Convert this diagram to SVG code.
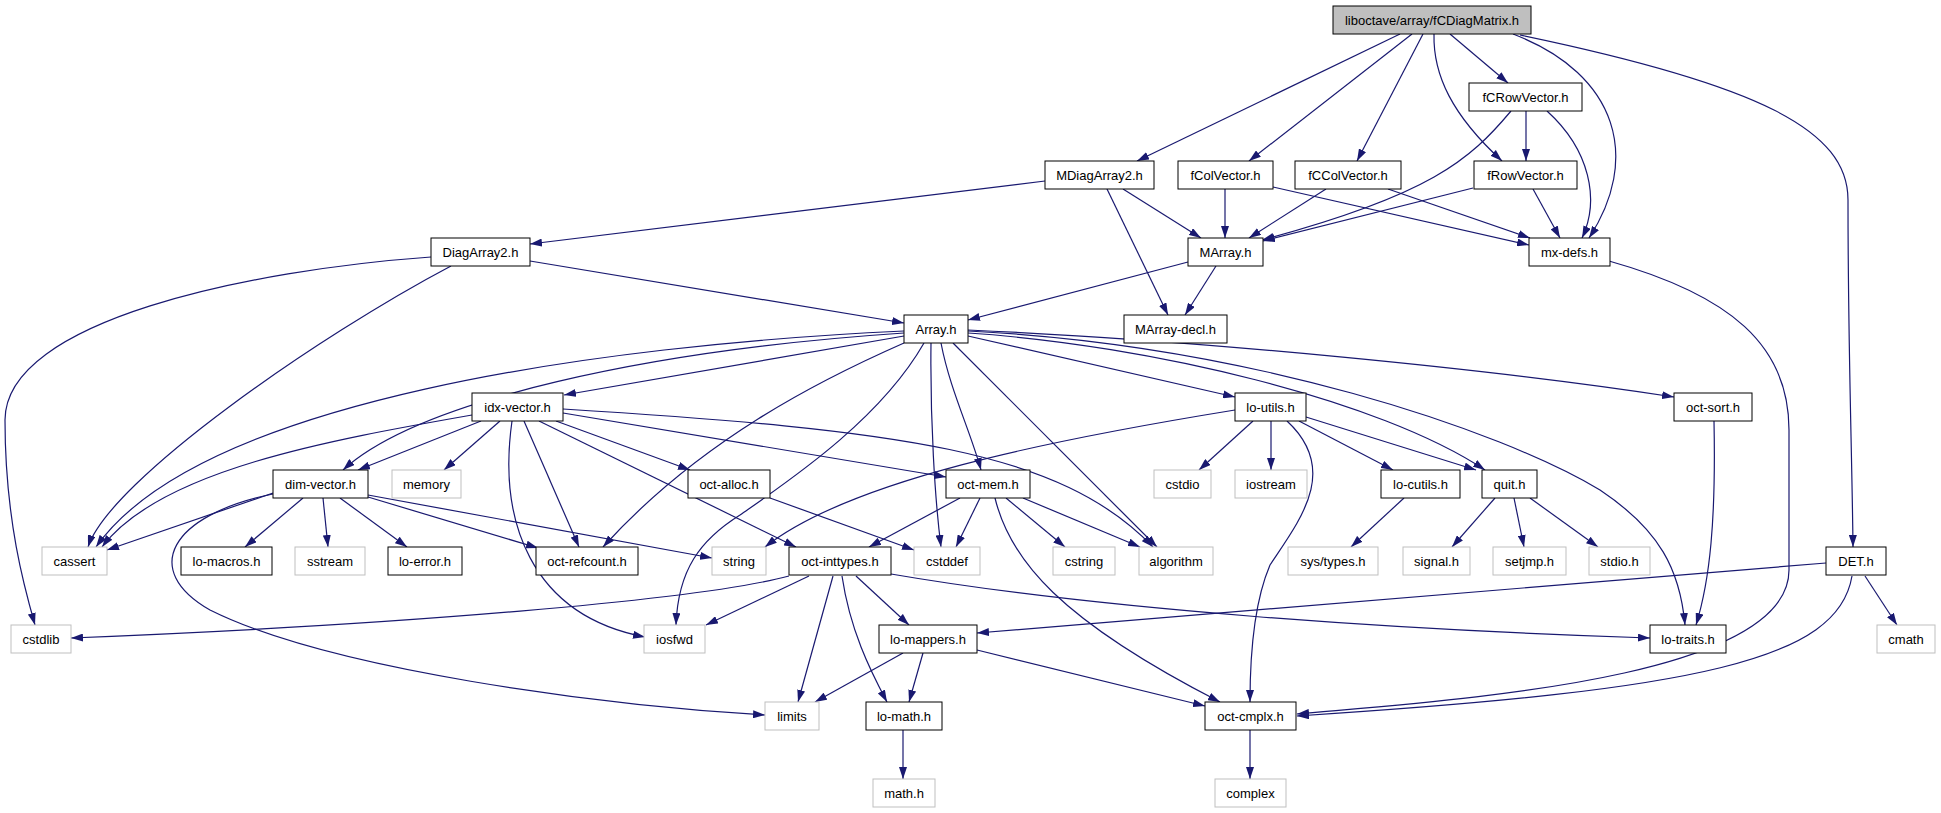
<svg xmlns="http://www.w3.org/2000/svg" width="1941" height="813" viewBox="0 0 1941 813">
<style>
.n rect{fill:#fff;stroke:#000;stroke-width:1}
.g rect{fill:#fff;stroke:#bfbfbf;stroke-width:1}
.r rect{fill:#bfbfbf;stroke:#000;stroke-width:1}
text{font-family:"Liberation Sans",Arial,sans-serif;font-size:13px;text-anchor:middle;fill:#000}
#edges path{fill:none;stroke:#191970;stroke-width:1.2;marker-end:url(#a)}
</style>
<defs>
<marker id="a" markerUnits="userSpaceOnUse" markerWidth="12" markerHeight="8" refX="12" refY="4" orient="auto"><path d="M0,0L12,4L0,8z" fill="#191970"/></marker>
</defs>
<rect width="1941" height="813" fill="#fff"/>
<g id="edges">
<path d="M1400,34 L1137,161"/>
<path d="M1412,34 L1249,161"/>
<path d="M1423,34 L1357,161"/>
<path d="M1434,34 C1433,75 1452,115 1502,161"/>
<path d="M1450,34 L1508,83"/>
<path d="M1513,34 C1620,75 1640,160 1589,238"/>
<path d="M1520,35 C1760,85 1848,130 1848,200 C1848,350 1852,450 1853,547"/>
<path d="M1511,111 C1470,160 1430,195 1262,240"/>
<path d="M1526,111 L1526,161"/>
<path d="M1547,111 C1590,150 1600,200 1582,238"/>
<path d="M1045,181 L530,244"/>
<path d="M1123,189 L1201,238"/>
<path d="M1107,189 L1168,315"/>
<path d="M1225,189 L1225,238"/>
<path d="M1273,187 L1529,245"/>
<path d="M1326,189 L1249,238"/>
<path d="M1388,189 L1530,238"/>
<path d="M1473,188 L1263,241"/>
<path d="M1533,189 L1560,238"/>
<path d="M1188,262 L968,320"/>
<path d="M1216,266 L1185,315"/>
<path d="M530,261 L904,323"/>
<path d="M451,266 C320,335 110,480 88,547"/>
<path d="M431,257 C250,270 5,320 5,420 C5,520 25,590 35,625"/>
<path d="M1609,261 C1730,295 1789,345 1789,430 L1789,570 C1789,680 1450,700 1297,714"/>
<path d="M1852,576 C1838,660 1700,690 1297,716"/>
<path d="M1826,563 L977,633"/>
<path d="M1865,576 L1897,625"/>
<path d="M904,336 L564,395"/>
<path d="M904,333 C650,350 420,400 343,470"/>
<path d="M904,331 C600,345 200,400 96,547"/>
<path d="M904,343 C820,380 700,440 603,547"/>
<path d="M924,343 C880,420 790,480 740,515 C700,540 678,570 676,625"/>
<path d="M931,343 C930,420 935,500 941,547"/>
<path d="M941,343 C950,390 970,430 981,470"/>
<path d="M953,343 L1157,547"/>
<path d="M968,336 L1235,397"/>
<path d="M968,333 C1150,345 1380,400 1485,470"/>
<path d="M968,330 C1200,340 1500,370 1674,397"/>
<path d="M968,331 C1250,345 1500,430 1600,490 C1660,530 1680,570 1685,625"/>
<path d="M481,421 L358,470"/>
<path d="M472,415 C330,440 160,470 102,547"/>
<path d="M500,421 L444,470"/>
<path d="M512,421 C498,520 530,615 645,637"/>
<path d="M524,421 L579,547"/>
<path d="M539,421 L796,547"/>
<path d="M556,421 L690,470"/>
<path d="M563,413 L946,477"/>
<path d="M563,409 C900,430 1060,450 1153,547"/>
<path d="M273,493 L107,550"/>
<path d="M303,498 L245,547"/>
<path d="M323,498 L328,547"/>
<path d="M340,498 L407,547"/>
<path d="M368,497 L538,548"/>
<path d="M368,495 L712,558"/>
<path d="M273,494 C170,515 140,570 210,610 C330,670 600,705 765,715"/>
<path d="M770,498 L914,550"/>
<path d="M960,498 L869,547"/>
<path d="M980,498 L956,547"/>
<path d="M1006,498 L1065,547"/>
<path d="M1023,498 L1140,547"/>
<path d="M995,498 C1010,560 1060,620 1220,702"/>
<path d="M1235,410 C1050,440 850,480 765,547"/>
<path d="M1253,421 L1199,470"/>
<path d="M1271,421 L1271,470"/>
<path d="M1287,421 C1340,470 1300,520 1270,565 C1255,600 1250,650 1250,702"/>
<path d="M1299,421 L1393,470"/>
<path d="M1306,417 L1476,470"/>
<path d="M1714,421 C1716,520 1710,580 1696,625"/>
<path d="M1404,498 L1351,547"/>
<path d="M1495,498 L1452,547"/>
<path d="M1514,498 L1524,547"/>
<path d="M1530,498 L1598,547"/>
<path d="M789,576 C700,600 400,625 71,638"/>
<path d="M809,576 L706,625"/>
<path d="M833,576 L798,702"/>
<path d="M842,576 C850,630 870,670 887,702"/>
<path d="M856,576 L909,625"/>
<path d="M891,574 C1100,610 1400,630 1650,638"/>
<path d="M903,653 L815,702"/>
<path d="M923,653 L909,702"/>
<path d="M977,650 L1205,706"/>
<path d="M903,730 L903,779"/>
<path d="M1250,730 L1250,779"/>
</g>
<g id="root" class="r"><rect x="1333" y="6" width="198" height="28"/><text x="1432" y="24.5">liboctave/array/fCDiagMatrix.h</text></g>
<g id="fCRowVector" class="n"><rect x="1469" y="83" width="113" height="28"/><text x="1525.5" y="101.5">fCRowVector.h</text></g>
<g id="MDiagArray2" class="n"><rect x="1045" y="161" width="109" height="28"/><text x="1099.5" y="179.5">MDiagArray2.h</text></g>
<g id="fColVector" class="n"><rect x="1178" y="161" width="95" height="28"/><text x="1225.5" y="179.5">fColVector.h</text></g>
<g id="fCColVector" class="n"><rect x="1295" y="161" width="106" height="28"/><text x="1348" y="179.5">fCColVector.h</text></g>
<g id="fRowVector" class="n"><rect x="1474" y="161" width="103" height="28"/><text x="1525.5" y="179.5">fRowVector.h</text></g>
<g id="DiagArray2" class="n"><rect x="431" y="238" width="99" height="28"/><text x="480.5" y="256.5">DiagArray2.h</text></g>
<g id="MArray" class="n"><rect x="1188" y="238" width="75" height="28"/><text x="1225.5" y="256.5">MArray.h</text></g>
<g id="mx-defs" class="n"><rect x="1529" y="238" width="81" height="28"/><text x="1569.5" y="256.5">mx-defs.h</text></g>
<g id="Array" class="n"><rect x="904" y="315" width="64" height="28"/><text x="936" y="333.5">Array.h</text></g>
<g id="MArray-decl" class="n"><rect x="1124" y="315" width="103" height="28"/><text x="1175.5" y="333.5">MArray-decl.h</text></g>
<g id="idx-vector" class="n"><rect x="472" y="393" width="91" height="28"/><text x="517.5" y="411.5">idx-vector.h</text></g>
<g id="lo-utils" class="n"><rect x="1235" y="393" width="71" height="28"/><text x="1270.5" y="411.5">lo-utils.h</text></g>
<g id="oct-sort" class="n"><rect x="1674" y="393" width="78" height="28"/><text x="1713" y="411.5">oct-sort.h</text></g>
<g id="dim-vector" class="n"><rect x="273" y="470" width="95" height="28"/><text x="320.5" y="488.5">dim-vector.h</text></g>
<g id="memory" class="g"><rect x="392" y="470" width="69" height="28"/><text x="426.5" y="488.5">memory</text></g>
<g id="oct-alloc" class="n"><rect x="688" y="470" width="82" height="28"/><text x="729" y="488.5">oct-alloc.h</text></g>
<g id="oct-mem" class="n"><rect x="946" y="470" width="84" height="28"/><text x="988" y="488.5">oct-mem.h</text></g>
<g id="cstdio" class="g"><rect x="1154" y="470" width="57" height="28"/><text x="1182.5" y="488.5">cstdio</text></g>
<g id="iostream" class="g"><rect x="1235" y="470" width="72" height="28"/><text x="1271" y="488.5">iostream</text></g>
<g id="lo-cutils" class="n"><rect x="1381" y="470" width="79" height="28"/><text x="1420.5" y="488.5">lo-cutils.h</text></g>
<g id="quit" class="n"><rect x="1482" y="470" width="55" height="28"/><text x="1509.5" y="488.5">quit.h</text></g>
<g id="cassert" class="g"><rect x="42" y="547" width="65" height="28"/><text x="74.5" y="565.5">cassert</text></g>
<g id="lo-macros" class="n"><rect x="181" y="547" width="91" height="28"/><text x="226.5" y="565.5">lo-macros.h</text></g>
<g id="sstream" class="g"><rect x="295" y="547" width="70" height="28"/><text x="330" y="565.5">sstream</text></g>
<g id="lo-error" class="n"><rect x="388" y="547" width="74" height="28"/><text x="425" y="565.5">lo-error.h</text></g>
<g id="oct-refcount" class="n"><rect x="536" y="547" width="102" height="28"/><text x="587" y="565.5">oct-refcount.h</text></g>
<g id="string" class="g"><rect x="712" y="547" width="54" height="28"/><text x="739" y="565.5">string</text></g>
<g id="oct-inttypes" class="n"><rect x="789" y="547" width="102" height="28"/><text x="840" y="565.5">oct-inttypes.h</text></g>
<g id="cstddef" class="g"><rect x="914" y="547" width="66" height="28"/><text x="947" y="565.5">cstddef</text></g>
<g id="cstring" class="g"><rect x="1053" y="547" width="62" height="28"/><text x="1084" y="565.5">cstring</text></g>
<g id="algorithm" class="g"><rect x="1139" y="547" width="74" height="28"/><text x="1176" y="565.5">algorithm</text></g>
<g id="sys-types" class="g"><rect x="1288" y="547" width="90" height="28"/><text x="1333" y="565.5">sys/types.h</text></g>
<g id="signal" class="g"><rect x="1403" y="547" width="67" height="28"/><text x="1436.5" y="565.5">signal.h</text></g>
<g id="setjmp" class="g"><rect x="1493" y="547" width="73" height="28"/><text x="1529.5" y="565.5">setjmp.h</text></g>
<g id="stdio" class="g"><rect x="1589" y="547" width="61" height="28"/><text x="1619.5" y="565.5">stdio.h</text></g>
<g id="DET" class="n"><rect x="1826" y="547" width="60" height="28"/><text x="1856" y="565.5">DET.h</text></g>
<g id="cstdlib" class="g"><rect x="11" y="625" width="60" height="28"/><text x="41" y="643.5">cstdlib</text></g>
<g id="iosfwd" class="g"><rect x="644" y="625" width="61" height="28"/><text x="674.5" y="643.5">iosfwd</text></g>
<g id="lo-mappers" class="n"><rect x="879" y="625" width="98" height="28"/><text x="928" y="643.5">lo-mappers.h</text></g>
<g id="lo-traits" class="n"><rect x="1650" y="625" width="76" height="28"/><text x="1688" y="643.5">lo-traits.h</text></g>
<g id="cmath" class="g"><rect x="1877" y="625" width="58" height="28"/><text x="1906" y="643.5">cmath</text></g>
<g id="limits" class="g"><rect x="765" y="702" width="54" height="28"/><text x="792" y="720.5">limits</text></g>
<g id="lo-math" class="n"><rect x="866" y="702" width="76" height="28"/><text x="904" y="720.5">lo-math.h</text></g>
<g id="oct-cmplx" class="n"><rect x="1205" y="702" width="91" height="28"/><text x="1250.5" y="720.5">oct-cmplx.h</text></g>
<g id="math" class="g"><rect x="873" y="779" width="62" height="28"/><text x="904" y="797.5">math.h</text></g>
<g id="complex" class="g"><rect x="1215" y="779" width="71" height="28"/><text x="1250.5" y="797.5">complex</text></g>
</svg>
